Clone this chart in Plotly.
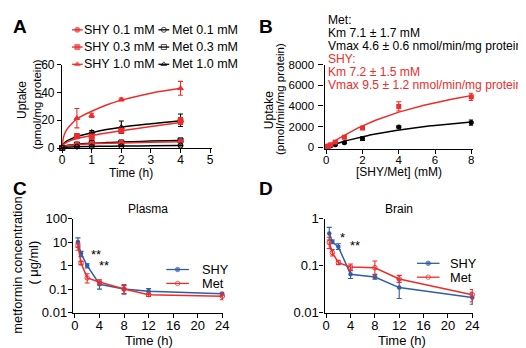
import plotly.graph_objects as go

W, H = 526, 348
RED = "#EE2C2C"
BLUE = "#2F5DA8"
BLACK = "#000000"
FONT = "Liberation Sans, Arial, sans-serif"

# ---------------- Panel A data ----------------
a_time = [0, 0.5, 1, 2, 4]
a_shy01 = [0, 2.5, 3.0, 3.8, 4.6]
a_shy01_err = [0, 0.5, 0.6, 0.6, 0.8]
a_shy03 = [0, 8.5, 8.0, 12.5, 19.5]
a_shy03_err = [0, 1.5, 2.0, 1.5, 2.5]
a_shy10 = [0, 21.5, 23.5, 35.0, 43.0]
a_shy10_err = [0, 7.0, 1.5, 1.0, 5.0]
a_met01 = [0, 1.0, 1.0, 1.2, 1.8]
a_met01_err = [0, 0.3, 0.3, 0.3, 0.4]
a_met03 = [0, 2.5, 3.5, 4.0, 5.5]
a_met03_err = [0, 0.5, 0.7, 0.8, 1.0]
a_met10 = [0, 9.0, 11.5, 15.0, 20.0]
a_met10_err = [0, 1.0, 1.0, 4.5, 4.5]

a_fit_time = [0, 0.05, 0.15, 0.3, 0.5, 1, 1.5, 2, 3, 4]
a_fit_shy01 = [0, 0.9, 1.5, 2.0, 2.4, 3.0, 3.4, 3.7, 4.2, 4.6]
a_fit_shy03 = [0, 2.5, 4.0, 5.5, 6.8, 9.0, 10.8, 12.5, 15.5, 18.3]
a_fit_shy10 = [0, 8.0, 13.0, 17.0, 21.0, 26.5, 31.0, 34.5, 39.5, 43.0]
a_fit_met01 = [0, 0.4, 0.6, 0.8, 0.9, 1.1, 1.3, 1.4, 1.6, 1.8]
a_fit_met03 = [0, 1.0, 1.7, 2.2, 2.7, 3.4, 3.9, 4.3, 5.0, 5.5]
a_fit_met10 = [0, 3.0, 5.0, 6.5, 8.3, 11.0, 13.3, 15.0, 17.5, 19.7]

a_xticks = [0, 1, 2, 3, 4, 5]
a_yticks = [0, 20, 40, 60]

# ---------------- Panel B data ----------------
b_conc = [0.0625, 0.125, 0.25, 0.5, 1, 2, 4, 8]
b_shy = [50, 110, 220, 480, 950, 1850, 3950, 4880]
b_shy_err = [20, 20, 40, 60, 100, 120, 450, 350]
b_met = [30, 60, 120, 220, 420, 820, 1950, 2380]
b_met_err = [10, 20, 30, 40, 60, 180, 80, 250]
b_met_km, b_met_vmax = 7.1, 4600.0    # mM, pmol/min/mg protein
b_shy_km, b_shy_vmax = 7.2, 9500.0
b_xticks = [0, 2, 4, 6, 8]
b_yticks = [0, 2000, 4000, 6000, 8000]

# ---------------- Panel C/D data ----------------
cd_time = [0.5, 1, 2, 4, 8, 12, 24]
c_shy = [10.0, 3.2, 1.0, 0.16, 0.10, 0.08, 0.063]
c_shy_up = [5.0, 0.8, 0.2, 0.05, 0.04, 0.025, 0.01]
c_shy_dn = [4.0, 0.8, 0.2, 0.06, 0.035, 0.02, 0.01]
c_met = [7.0, 1.3, 0.30, 0.20, 0.10, 0.058, 0.050]
c_met_up = [2.0, 0.2, 0.15, 0.05, 0.055, 0.01, 0.02]
c_met_dn = [2.5, 0.2, 0.12, 0.05, 0.04, 0.01, 0.015]

d_shy = [0.48, 0.32, 0.25, 0.065, 0.057, 0.034, 0.021]
d_shy_up = [0.17, 0.03, 0.04, 0.015, 0.008, 0.016, 0.006]
d_shy_dn = [0.13, 0.03, 0.03, 0.012, 0.006, 0.014, 0.006]
d_met = [0.31, 0.19, 0.115, 0.093, 0.09, 0.052, 0.024]
d_met_up = [0.09, 0.03, 0.015, 0.015, 0.035, 0.01, 0.007]
d_met_dn = [0.08, 0.03, 0.01, 0.015, 0.03, 0.008, 0.007]

cd_xticks = [0, 4, 8, 12, 16, 20, 24]
c_yticks = [0.01, 0.1, 1, 10, 100]
c_yticktext = ["0.01", "0.1", "1", "10", "100"]
d_yticks = [0.01, 0.1, 1]
d_yticktext = ["0.01", "0.1", "1"]


def px(x):
    return x / W


def py(y):
    return 1 - y / H


fig = go.Figure()


def err(arr, color, minus=None):
    d = dict(type="data", array=arr, color=color, thickness=1.1, width=2.5, visible=True)
    if minus is not None:
        d["arrayminus"] = minus
        d["symmetric"] = False
    return d


# ---------- Panel A ----------
a_series = [
    (a_fit_shy10, a_shy10, a_shy10_err, RED, "triangle-up"),
    (a_fit_met10, a_met10, a_met10_err, BLACK, "triangle-up-open"),
    (a_fit_shy03, a_shy03, a_shy03_err, RED, "square"),
    (a_fit_met03, a_met03, a_met03_err, BLACK, "square-open"),
    (a_fit_shy01, a_shy01, a_shy01_err, RED, "circle"),
    (a_fit_met01, a_met01, a_met01_err, BLACK, "circle-open"),
]
for fit, vals, e, col, sym in a_series:
    fig.add_trace(go.Scatter(x=a_fit_time, y=fit, mode="lines", line=dict(color=col, width=1.5, shape="spline"),
                             xaxis="x", yaxis="y", showlegend=False, cliponaxis=False))
    fig.add_trace(go.Scatter(x=a_time, y=vals, mode="markers", error_y=err(e, col),
                             marker=dict(symbol=sym, size=5, color=col, line=dict(color=col, width=1)),
                             xaxis="x", yaxis="y", showlegend=False, cliponaxis=False))

# ---------- Panel B ----------
b_fit_x = [i * 8 / 100 for i in range(101)]
b_fit_met = [b_met_vmax * s / (b_met_km + s) for s in b_fit_x]
b_fit_shy = [b_shy_vmax * s / (b_shy_km + s) for s in b_fit_x]
fig.add_trace(go.Scatter(x=b_fit_x, y=b_fit_met, mode="lines", line=dict(color=BLACK, width=1.5),
                         xaxis="x2", yaxis="y2", showlegend=False))
fig.add_trace(go.Scatter(x=b_fit_x, y=b_fit_shy, mode="lines", line=dict(color=RED, width=1.5),
                         xaxis="x2", yaxis="y2", showlegend=False))
fig.add_trace(go.Scatter(x=b_conc, y=b_met, mode="markers", error_y=err(b_met_err, BLACK),
                         marker=dict(symbol="circle", size=5, color=BLACK),
                         xaxis="x2", yaxis="y2", showlegend=False, cliponaxis=False))
fig.add_trace(go.Scatter(x=b_conc, y=b_shy, mode="markers", error_y=err(b_shy_err, RED),
                         marker=dict(symbol="square", size=5, color=RED),
                         xaxis="x2", yaxis="y2", showlegend=False, cliponaxis=False))

# ---------- Panels C & D ----------
for xa, ya, shy, su, sd, met, mu, md in [
    ("x3", "y3", c_shy, c_shy_up, c_shy_dn, c_met, c_met_up, c_met_dn),
    ("x4", "y4", d_shy, d_shy_up, d_shy_dn, d_met, d_met_up, d_met_dn),
]:
    fig.add_trace(go.Scatter(x=cd_time, y=shy, mode="lines+markers", error_y=err(su, BLUE, sd),
                             line=dict(color=BLUE, width=1.5),
                             marker=dict(symbol="circle", size=4.5, color=BLUE),
                             xaxis=xa, yaxis=ya, showlegend=False, cliponaxis=False))
    fig.add_trace(go.Scatter(x=cd_time, y=met, mode="lines+markers", error_y=err(mu, RED, md),
                             line=dict(color=RED, width=1.5),
                             marker=dict(symbol="circle-open", size=4.5, color=RED, line=dict(width=1)),
                             xaxis=xa, yaxis=ya, showlegend=False, cliponaxis=False))


# ---------- Legend keys (overlay axis in pixel coordinates) ----------
def key(x0, x1, y, col, sym, size=5):
    fig.add_trace(go.Scatter(x=[x0, (x0 + x1) / 2, x1], y=[y, y, y], mode="lines+markers",
                             line=dict(color=col, width=1.3),
                             marker=dict(symbol=sym, size=[0, size, 0], color=col, line=dict(color=col, width=1)),
                             xaxis="x5", yaxis="y5", showlegend=False, hoverinfo="skip"))


annotations = []


def text(x, y, s, size=12.5, color=BLACK, xanchor="left", angle=0, bold=False):
    if bold:
        s = "<b>" + s + "</b>"
    annotations.append(dict(x=px(x), y=py(y), xref="paper", yref="paper", text=s, showarrow=False,
                            xanchor=xanchor, yanchor="middle", textangle=angle, borderpad=0,
                            font=dict(family=FONT, size=size, color=color)))


a_leg_rows = [15.5, 33.5, 51.5]
a_leg = [
    ("SHY 0.1 mM", RED, "circle", "Met 0.1 mM", "circle-open"),
    ("SHY 0.3 mM", RED, "square", "Met 0.3 mM", "square-open"),
    ("SHY 1.0 mM", RED, "triangle-up", "Met 1.0 mM", "triangle-up-open"),
]
for yrow, (t1, c1, s1, t2, s2) in zip(a_leg_rows, a_leg):
    key(62, 73, yrow, c1, s1)
    text(73.5, yrow, t1)
    key(150, 161, yrow, BLACK, s2)
    text(162.5, yrow, t2)

for yrow, lab, col, sym in [(266, "SHY", BLUE, "circle"), (280.5, "Met", RED, "circle-open")]:
    key(158, 181, yrow, col, sym, 4.5)
    text(193, yrow, lab, size=12.8)
for yrow, lab, col, sym in [(259.5, "SHY", BLUE, "circle"), (274, "Met", RED, "circle-open")]:
    key(413, 436, yrow, col, sym, 4.5)
    text(446, yrow, lab, size=12.8)

# ---------- Text ----------
text(9.5, 11.5, "A", size=19, bold=True, xanchor="center")
text(259, 11.5, "B", size=19, bold=True, xanchor="center")
text(9, 181.5, "C", size=19, bold=True, xanchor="center")
text(259, 181.5, "D", size=19, bold=True, xanchor="center")

text(11, 89, "Uptake", size=12, angle=-90, xanchor="center")
text(26, 94, "(pmol/mg protein)", size=11.5, angle=-90, xanchor="center")
text(122, 165, "Time (h)", size=12, xanchor="center")

text(262, 100, "Uptake", size=12, angle=-90, xanchor="center")
text(273.5, 88, "(pmol/min/mg protein)", size=11.5, angle=-90, xanchor="center")
text(395, 164.5, "[SHY/Met] (mM)", size=12, xanchor="center")

b_lines = [
    (5.5, "Met:", BLACK), (19, "Km 7.1 ± 1.7 mM", BLACK),
    (32.5, "Vmax 4.6 ± 0.6 nmol/min/mg protein", BLACK),
    (46.5, "SHY:", RED), (60, "Km 7.2 ± 1.5 mM", RED),
    (73.5, "Vmax 9.5 ± 1.2 nmol/min/mg protein", RED),
]
for yy, s, col in b_lines:
    text(321.5, yy, s, size=12.1, color=col)

text(7, 261, "metformin concentration", size=12.8, angle=-90, xanchor="center")
text(22.5, 258.5, "( μg/ml)", size=12.8, angle=-90, xanchor="center")
text(139, 203, "Plasma", size=12, xanchor="center")
text(140, 340.5, "Time (h)", size=13, xanchor="center")

text(395, 203, "Brain", size=12, xanchor="center")
text(398, 340.5, "Time (h)", size=13, xanchor="center")

# asterisks in data coordinates
for xa, ya, xv, yv, s in [("x3", "y3", 2.3, 0.48, "**"), ("x3", "y3", 3.6, 0.0, "**"),
                          ("x4", "y4", 1.9, -0.40, "*"), ("x4", "y4", 3.6, -0.58, "**")]:
    annotations.append(dict(x=xv, y=yv, xref=xa, yref=ya, text=s, showarrow=False,
                            xanchor="left", yanchor="middle", font=dict(family=FONT, size=13, color=BLACK)))


def axis(domain, rng, tickvals, size, anchor, ticktext=None, typ="linear", ticklen=4, standoff=0):
    d = dict(domain=domain, range=rng, tickvals=tickvals, showline=True, linecolor=BLACK, linewidth=1.3,
             ticks="outside", ticklen=ticklen, tickwidth=1.3, tickcolor=BLACK, showgrid=False, zeroline=False,
             tickfont=dict(family=FONT, size=size, color=BLACK), anchor=anchor, type=typ,
             fixedrange=True, ticklabelstandoff=standoff)
    if ticktext is not None:
        d["ticktext"] = ticktext
    return d


fig.update_layout(
    width=W, height=H, autosize=False,
    margin=dict(l=0, r=0, t=0, b=0),
    paper_bgcolor="white", plot_bgcolor="rgba(0,0,0,0)",
    showlegend=False,
    font=dict(family=FONT, color=BLACK),
    xaxis=axis([px(52), px(205)], [0, 5.08], a_xticks, 12, "y", standoff=-4),
    yaxis=axis([py(139), py(52)], [0, 60], a_yticks, 12, "x"),
    xaxis2=axis([px(319), px(470)], [-0.092, 8.09], b_xticks, 11.5, "y2", standoff=-4),
    yaxis2=axis([py(140), py(52)], [-186, 8000], b_yticks, 11.5, "x2", ticklen=5, standoff=2),
    xaxis3=axis([px(63), px(216)], [-0.32, 24.16], cd_xticks, 13, "y3", standoff=-3),
    yaxis3=axis([py(311), py(212.7)], [-2, 2], c_yticks, 13, "x3", c_yticktext, "log", standoff=-2),
    xaxis4=axis([px(319), px(470)], [-0.275, 24.12], cd_xticks, 13, "y4", standoff=-3),
    yaxis4=axis([py(311), py(212.7)], [-2, 0], d_yticks, 13, "x4", d_yticktext, "log", standoff=-2),
    xaxis5=dict(domain=[0, 1], range=[0, W], visible=False, fixedrange=True, anchor="y5"),
    yaxis5=dict(domain=[0, 1], range=[H, 0], visible=False, fixedrange=True, anchor="x5"),
    annotations=annotations,
)

fig.write_html("out.html")
